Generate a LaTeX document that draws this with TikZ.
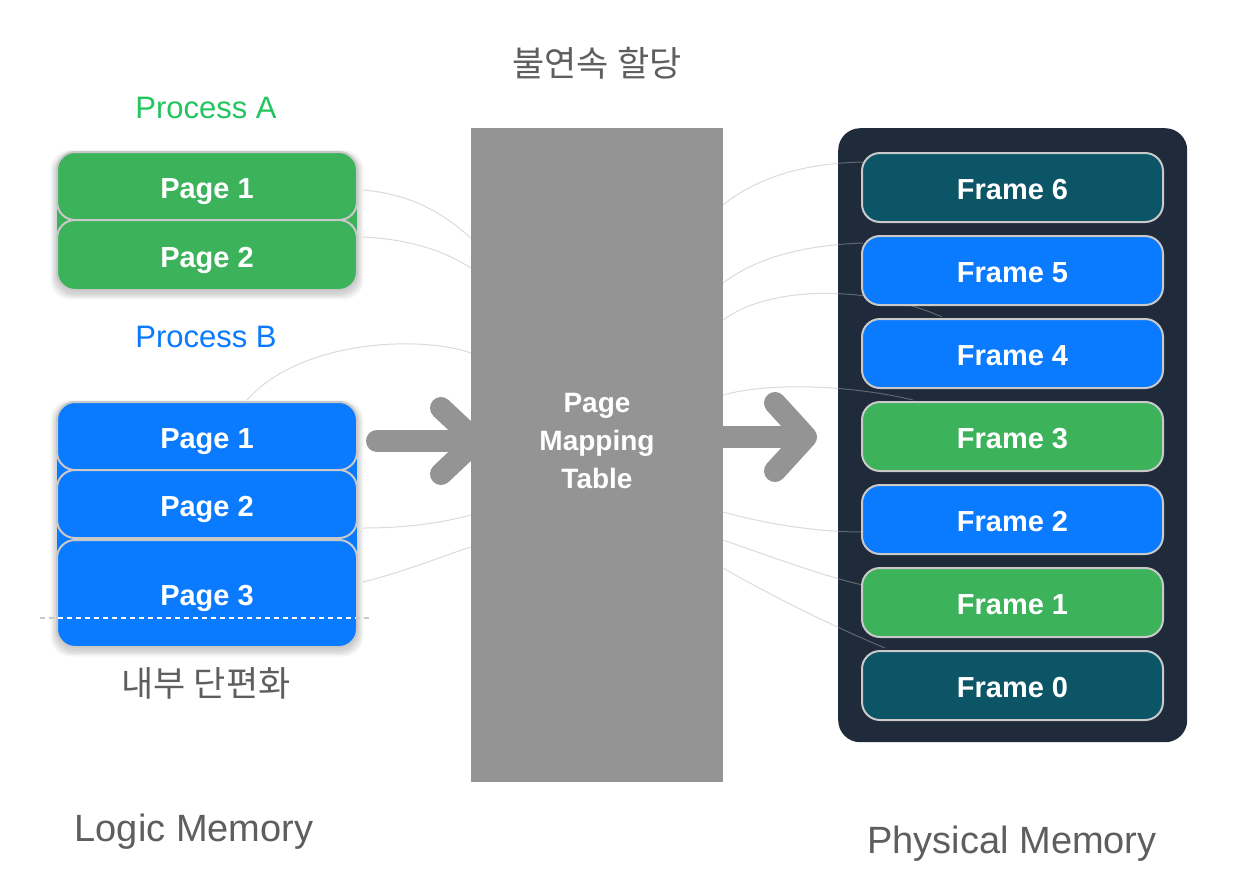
\documentclass[tikz,border=0pt]{standalone}
\usepackage{fontspec}
\setmainfont{Liberation Sans}
\newfontfamily\krfont{Noto Sans CJK KR}
\definecolor{pgreen}{HTML}{3CB35B}
\definecolor{pblue}{HTML}{0A7AFF}
\definecolor{pteal}{HTML}{0B5567}
\definecolor{darkbg}{HTML}{1F2A3B}
\definecolor{tgray}{HTML}{949494}
\definecolor{bordergray}{HTML}{C9C9C9}
\definecolor{labgray}{HTML}{5E5E5E}
\definecolor{procA}{HTML}{22C55E}
\definecolor{procB}{HTML}{0A7AFF}
\definecolor{connc}{HTML}{B0B0B0}
\tikzset{
  pagebox/.style={draw=bordergray, line width=2pt, rounded corners=18pt,
    minimum width=300pt, inner sep=0pt, text=white, text height=24pt, text depth=0pt,
    font=\bfseries\fontsize{29}{34}\selectfont},
  framebox/.style={draw=bordergray, line width=2pt, rounded corners=18pt,
    minimum width=301pt, minimum height=69pt, inner sep=0pt, text=white, text height=24pt, text depth=0pt,
    font=\bfseries\fontsize{29}{34}\selectfont},
  conn/.style={draw=connc, line width=1pt, opacity=0.45},
  bigarrow/.style={draw=tgray, line width=22pt, line cap=round, line join=round},
  graylabel/.style={text=labgray, font=\fontsize{38}{44}\selectfont},
  krlabel/.style={text=labgray, font=\krfont\fontsize{35}{42}\selectfont},
  proclabel/.style={font=\fontsize{31}{36}\selectfont},
}
\begin{document}
\begin{tikzpicture}[x=1pt,y=-1pt]
\useasboundingbox (0,0) rectangle (1252,895);
\fill[white] (0,0) rectangle (1252,895);

% titles
\node[krlabel] (title) at (597,63) {불연속 할당};
\node[proclabel, text=procA] (pa) at (206,108) {Process A};
\node[proclabel, text=procB] (pb) at (206,337) {Process B};
\node[krlabel] (frag) at (206,683) {내부 단편화};
\node[graylabel] (logic) at (194,832) {Logic Memory};
\node[graylabel] (phys) at (1012,844) {Physical Memory};

% big arrows
\draw[bigarrow] (377,441) -- (470,441);
\draw[bigarrow] (441,408) -- (476,441) -- (441,474);
\draw[bigarrow] (723,437) -- (800,437);
\draw[bigarrow] (775,403) -- (806,437) -- (775,471);

% page mapping table
\node[fill=tgray, minimum width=252pt, minimum height=654pt, anchor=north west, inner sep=0pt] (pmt) at (471,128) {};
\node[text=white, align=center, font=\bfseries\fontsize{28}{38}\selectfont] (pmtlabel) at (597,441) {Page\\Mapping\\Table};

% physical memory container
\node[fill=darkbg, rounded corners=22pt, minimum width=349pt, minimum height=614pt, anchor=north west, inner sep=0pt] (pm) at (838,128) {};

% connector end points on the table
\coordinate (tl1) at (471,238);
\coordinate (tl2) at (471,268);
\coordinate (tl3) at (471,353);
\coordinate (tl4) at (471,515);
\coordinate (tl5) at (471,547);
\coordinate (tr6) at (723,205);
\coordinate (tr5) at (723,283);
\coordinate (tr4) at (723,320);
\coordinate (tr3) at (723,395);
\coordinate (tr2) at (723,512);
\coordinate (tr1) at (723,540);
\coordinate (tr0) at (723,568);
\coordinate (b1top) at (247,400);

% left connectors
\draw[conn] (363,190) .. controls (420,195) and (450,220) .. (tl1);
\draw[conn] (363,237) .. controls (420,240) and (450,255) .. (tl2);
\draw[conn] (b1top) .. controls (300,340) and (420,335) .. (tl3);
\draw[conn] (363,528) .. controls (410,528) and (445,522) .. (tl4);
\draw[conn] (363,582) .. controls (410,570) and (445,555) .. (tl5);

% right connectors
\draw[conn] (tr6) .. controls (760,175) and (810,163) .. (863,162);
\draw[conn] (tr5) .. controls (760,255) and (810,245) .. (863,243);
\draw[conn] (tr4) .. controls (770,285) and (870,285) .. (942,317);
\draw[conn] (tr3) .. controls (770,382) and (850,385) .. (913,400);
\draw[conn] (tr2) .. controls (770,525) and (820,532) .. (863,532);
\draw[conn] (tr1) .. controls (780,560) and (830,578) .. (863,585);
\draw[conn] (tr0) .. controls (770,595) and (830,625) .. (885,648);

% shadows of stacks
\foreach \i in {1,...,5} {
  \fill[black, opacity=0.035, rounded corners=20pt] (57-\i*1.3,152-\i*1.0+3) rectangle (357+\i*1.3,290+\i*1.3+3);
  \fill[black, opacity=0.035, rounded corners=20pt] (57-\i*1.3,402-\i*1.0+3) rectangle (357+\i*1.3,647+\i*1.3+3);
}
\fill[pgreen] (57,178) rectangle (357,268);
\fill[pblue] (57,428) rectangle (357,625);

% process A pages
\node[pagebox, fill=pgreen, minimum height=68pt] (a1) at (207,186) {Page 1};
\node[pagebox, fill=pgreen, minimum height=70pt] (a2) at (207,255) {Page 2};

% process B pages
\node[pagebox, fill=pblue, minimum height=68pt] (b1) at (207,436) {Page 1};
\node[pagebox, fill=pblue, minimum height=68pt] (b2) at (207,504) {Page 2};
\node[pagebox, fill=pblue, minimum height=107pt] (b3) at (207,593.5) {Page 3};

% internal fragmentation line
\draw[bordergray, line width=1.5pt, dash pattern=on 5pt off 4pt] (40,618) -- (370,618);
\draw[white, line width=1.5pt, dash pattern=on 5pt off 4pt] (58,618) -- (356,618);

% frames
\node[framebox, fill=pteal] (f6) at (1012.5,187.5) {Frame 6};
\node[framebox, fill=pblue] (f5) at (1012.5,270.5) {Frame 5};
\node[framebox, fill=pblue] (f4) at (1012.5,353.5) {Frame 4};
\node[framebox, fill=pgreen] (f3) at (1012.5,436.5) {Frame 3};
\node[framebox, fill=pblue] (f2) at (1012.5,519.5) {Frame 2};
\node[framebox, fill=pgreen] (f1) at (1012.5,602.5) {Frame 1};
\node[framebox, fill=pteal] (f0) at (1012.5,685.5) {Frame 0};
\end{tikzpicture}
\end{document}
